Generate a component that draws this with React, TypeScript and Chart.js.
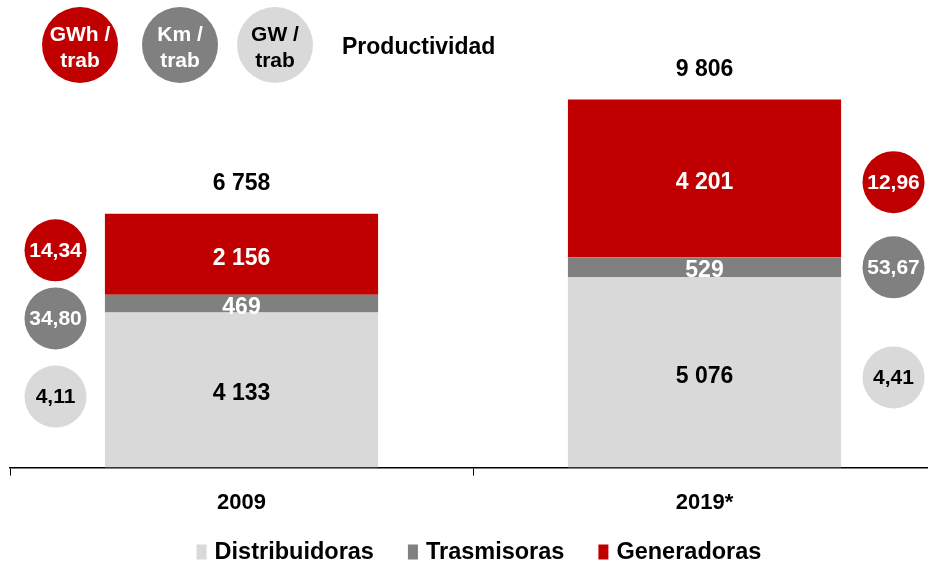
import React, { useEffect, useRef } from "react";
import { Chart, registerables } from "chart.js";

Chart.register(...registerables);

const categories = ["2009", "2019*"];
const seriesNames = ["Distribuidoras", "Trasmisoras", "Generadoras"];
const distribuidoras = [4133, 5076];
const trasmisoras = [469, 529];
const generadoras = [2156, 4201];
const gwhPerWorker = ["14,34", "12,96"];
const kmPerWorker = ["34,80", "53,67"];
const gwPerWorker = ["4,11", "4,41"];
const headerLabels = [["GWh /", "trab"], ["Km /", "trab"], ["GW /", "trab"]];
const headerTitle = "Productividad";

const RED = "#C00000";
const DARK = "#808080";
const LIGHT = "#D9D9D9";
const FONT = "'Liberation Sans', Arial, sans-serif";

const fmt = (n: number) => String(n).replace(/\B(?=(\d{3})+(?!\d))/g, " ");

const overlayPlugin = {
  id: "overlay",
  afterDatasetsDraw(chart: any) {
    const ctx = chart.ctx as CanvasRenderingContext2D;
    const x = chart.scales.x;
    const y = chart.scales.y;
    ctx.save();
    ctx.textAlign = "center";
    ctx.textBaseline = "middle";

    // segment labels
    const textColors = ["#000", "#fff", "#fff"];
    chart.data.datasets.forEach((ds: any, di: number) => {
      const meta = chart.getDatasetMeta(di);
      meta.data.forEach((bar: any, i: number) => {
        ctx.fillStyle = textColors[di];
        ctx.font = `bold 23px ${FONT}`;
        ctx.fillText(fmt(ds.data[i]), bar.x, (bar.y + bar.base) / 2 + 4);
      });
    });

    // totals
    categories.forEach((_, i) => {
      const total = distribuidoras[i] + trasmisoras[i] + generadoras[i];
      const px = x.getPixelForValue(i);
      const py = y.getPixelForValue(total);
      ctx.fillStyle = "#000";
      ctx.font = `bold 23px ${FONT}`;
      ctx.fillText(fmt(total), px, py - 30);
    });

    // side circles
    const circle = (cx: number, cy: number, r: number, fill: string) => {
      ctx.beginPath();
      ctx.arc(cx, cy, r, 0, Math.PI * 2);
      ctx.fillStyle = fill;
      ctx.fill();
    };
    const levels = [
      [5787, 3973, 1893],
      [7600, 5333, 2400],
    ];
    const sides = [-186, 189];
    categories.forEach((_, i) => {
      const cx = x.getPixelForValue(i) + sides[i];
      const vals = [gwhPerWorker[i], kmPerWorker[i], gwPerWorker[i]];
      const fills = [RED, DARK, LIGHT];
      const tcol = ["#fff", "#fff", "#000"];
      vals.forEach((v, k) => {
        const cy = y.getPixelForValue(levels[i][k]);
        circle(cx, cy, 31, fills[k]);
        ctx.fillStyle = tcol[k];
        ctx.font = `bold 21px ${FONT}`;
        ctx.fillText(v, cx, cy + 1);
      });
    });

    // header
    const hx = [80, 180, 275];
    const hf = [RED, DARK, LIGHT];
    const ht = ["#fff", "#fff", "#000"];
    headerLabels.forEach((lines, k) => {
      circle(hx[k], 45, 38, hf[k]);
      ctx.fillStyle = ht[k];
      ctx.font = `bold 21px ${FONT}`;
      ctx.fillText(lines[0], hx[k], 35);
      ctx.fillText(lines[1], hx[k], 61);
    });
    ctx.fillStyle = "#000";
    ctx.textAlign = "left";
    ctx.font = `bold 23px ${FONT}`;
    ctx.fillText(headerTitle, 342, 48);

    // legend
    const colors = [LIGHT, DARK, RED];
    ctx.font = `bold 23.5px ${FONT}`;
    const boxW = 10;
    const boxH = 15;
    const gapBox = 8;
    const gapItem = 34;
    const widths = seriesNames.map((s) => ctx.measureText(s).width);
    const total = widths.reduce((a, w) => a + boxW + gapBox + w, 0) + gapItem * (seriesNames.length - 1);
    let lx = 479 - total / 2;
    const ly = 552;
    seriesNames.forEach((s, k) => {
      ctx.fillStyle = colors[k];
      ctx.fillRect(lx, ly - boxH / 2, boxW, boxH);
      lx += boxW + gapBox;
      ctx.fillStyle = "#000";
      ctx.fillText(s, lx, ly + 1);
      lx += widths[k] + gapItem;
    });
    ctx.restore();
  },
};

export default function App() {
  const ref = useRef<HTMLCanvasElement | null>(null);
  useEffect(() => {
    if (!ref.current) return;
    const chart = new Chart(ref.current, {
      type: "bar",
      data: {
        labels: categories,
        datasets: [
          { label: seriesNames[0], data: distribuidoras, backgroundColor: LIGHT },
          { label: seriesNames[1], data: trasmisoras, backgroundColor: DARK },
          { label: seriesNames[2], data: generadoras, backgroundColor: RED },
        ],
      },
      options: {
        animation: false,
        responsive: false,
        maintainAspectRatio: false,
        layout: { padding: { left: 10, right: 4, top: 17, bottom: 33 } },
        datasets: { bar: { barPercentage: 0.59, categoryPercentage: 1 } },
        scales: {
          x: {
            stacked: true,
            grid: {
              offset: true,
              drawOnChartArea: false,
              drawTicks: true,
              tickLength: 8,
              color: "#000",
              lineWidth: 1,
            },
            border: { display: true, color: "#000", width: 1.5 },
            ticks: {
              color: "#000",
              padding: 14,
              font: { family: FONT, size: 22, weight: "bold" },
            },
          },
          y: { stacked: true, display: false, min: 0, max: 12000 },
        },
        plugins: {
          tooltip: { enabled: false },
          legend: { display: false },
        },
      },
      plugins: [overlayPlugin],
    });
    return () => chart.destroy();
  }, []);
  return (
    <div style={{ position: "fixed", left: 0, top: 0, width: 928, height: 563, overflow: "hidden", background: "#fff" }}>
      <canvas ref={ref} width={940} height={563} style={{ width: 940, height: 563, display: "block" }} />
    </div>
  );
}
